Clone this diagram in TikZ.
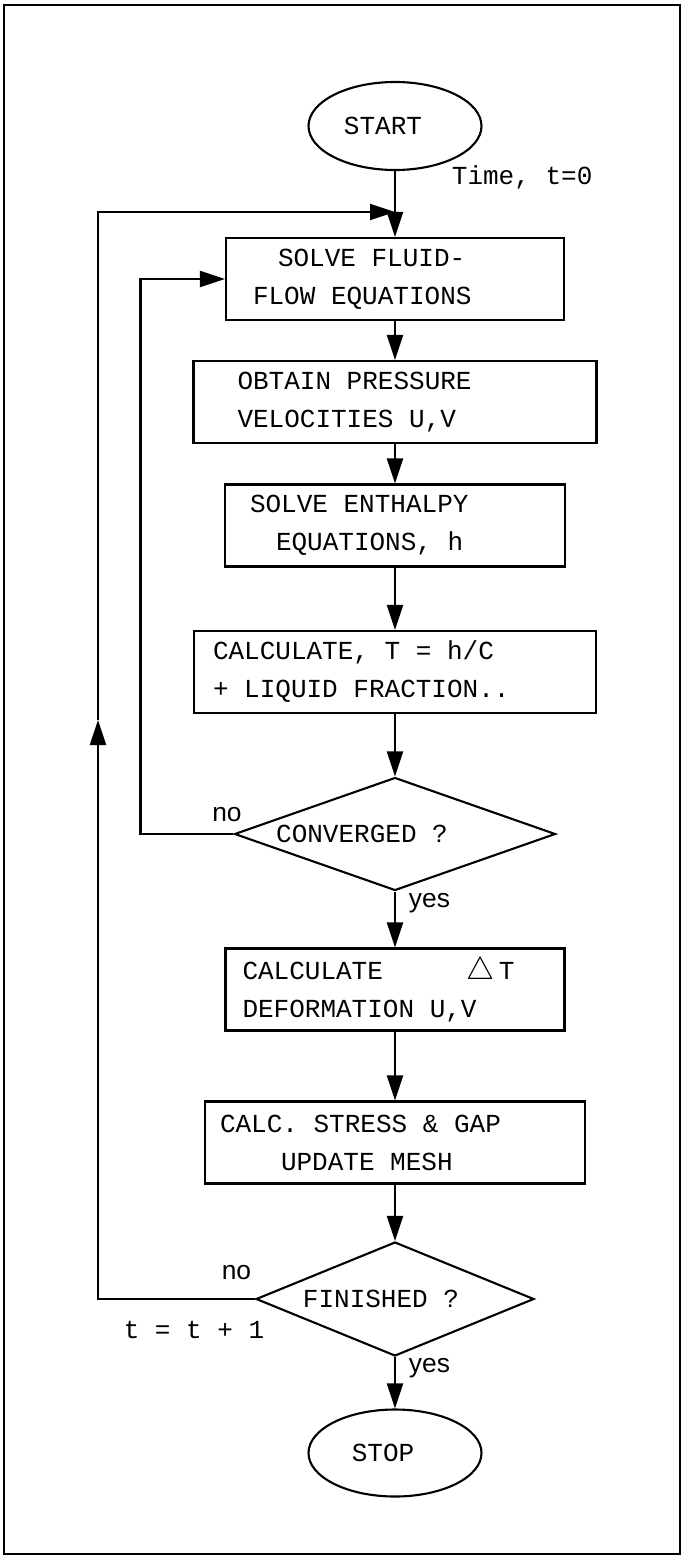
\documentclass[tikz,border=0pt]{standalone}
\usepackage{fontspec}
\setmainfont{Liberation Sans}
\newfontfamily\plotfont{Liberation Mono}
\usetikzlibrary{arrows.meta,shapes.geometric}

\begin{document}
\begin{tikzpicture}[>={Triangle[length=0.5cm,width=0.32cm]}, line width=1.2pt,
	every node/.style={font=\plotfont\fontsize{14.8}{21.6}\selectfont},
	stepbox/.style={draw, rectangle, align=left, minimum height=1.64cm, inner ysep=0pt,
		execute at begin node={\spaceskip=8.88pt\xspaceskip=8.88pt\relax}},
	term/.style={draw, ellipse, minimum width=3.46cm, minimum height=1.76cm, inner sep=0pt},
	test/.style={draw, diamond, aspect=2.84, inner sep=0pt},
	answer/.style={font=\fontsize{15}{18}\selectfont}]
			
			\useasboundingbox (0,0) rectangle (13.68,-31.12);
			\draw (0.08,-0.1) rectangle (13.6,-31.08);
			
			\node[term] (start) at (7.9,-2.52) {START\hspace*{0.48cm}};
			\node[anchor=west] (tzero) at (8.9,-3.54) {Time, t=0};
			
			\node[stepbox, text width=5.68cm, inner xsep=0.54cm] (fluid) at (7.9,-5.58)
			{\hspace*{0.5cm}SOLVE FLUID-\\FLOW EQUATIONS};
			\node[stepbox, text width=6.3cm, inner xsep=0.88cm] (press) at (7.9,-8.04)
			{OBTAIN PRESSURE\\VELOCITIES U,V};
			\node[stepbox, text width=5.8cm, inner xsep=0.5cm] (enth) at (7.9,-10.51)
			{SOLVE ENTHALPY\\\hspace*{0.52cm}EQUATIONS, h};
			\node[stepbox, text width=7.28cm, inner xsep=0.38cm] (temp) at (7.9,-13.44)
			{CALCULATE, T = h/C\\+ LIQUID FRACTION..};
			
			\node[test, minimum width=6.42cm, minimum height=2.26cm] (conv) at (7.9,-16.68)
			{CONVERGED ?\hspace*{1.32cm}};
			\node[answer] (convno) at (4.54,-16.3) {no};
			\node[answer, anchor=west] (convyes) at (8.04,-18.06) {yes};
			
			\node[stepbox, text width=6.1cm, inner xsep=0.34cm] (deform) at (7.9,-19.79)
			{\makebox[4.48cm][l]{CALCULATE}\scalebox{1.25}{$\triangle$}\,T\\DEFORMATION U,V};
			\node[stepbox, text width=7.0cm, inner xsep=0.3cm] (stress) at (7.9,-22.85)
			{CALC. STRESS \& GAP\\\hspace*{1.22cm}UPDATE MESH};
			
			\node[test, minimum width=5.56cm, minimum height=2.28cm] (fin) at (7.9,-25.98)
			{FINISHED ?\hspace*{0.56cm}};
			\node[answer] (finno) at (4.73,-25.46) {no};
			\node (tnext) at (3.88,-26.6) {t = t + 1};
			\node[answer, anchor=west] (finyes) at (8.04,-27.36) {yes};
			
			\node[term, minimum height=1.74cm] (stop) at (7.9,-29.06) {STOP\hspace*{0.48cm}};
			
			% main chain
			\draw[->] (start) -- (fluid);
			\draw[->] (fluid) -- (press);
			\draw[->] (press) -- (enth);
			\draw[->] (enth) -- (temp);
			\draw[->] (temp) -- (conv);
			\draw[->] (conv) -- (deform);
			\draw[->] (deform) -- (stress);
			\draw[->] (stress) -- (fin);
			\draw[->] (fin) -- (stop);
			
			% iteration loop
			\draw[->] (conv.west) -- ++(-1.86,0) |- (fluid.west);
			
			% time step loop
			\coordinate (up) at (1.96,-14.4);
			\coordinate (join) at (7.9,-4.24);
			\draw[->] (fin.west) -| (up);
			\draw[->] (up) |- (join);
			
	\end{tikzpicture}
\end{document}
